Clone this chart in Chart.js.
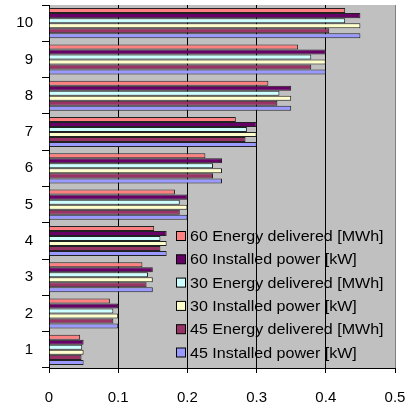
<!DOCTYPE html>
<html>
<head>
<meta charset="utf-8">
<script src="https://cdn.jsdelivr.net/npm/chart.js@4/dist/chart.umd.min.js"></script>
<style>
  body { margin: 0; background: #fff; }
  #grafico { display: block; }
</style>
</head>
<body>
<canvas id="grafico" width="407" height="406"></canvas>
<script>
const categorias = ['1', '2', '3', '4', '5', '6', '7', '8', '9', '10']
const etiquetas = [
    '60 Energy delivered [MWh]',
    '60 Installed power [kW]',
    '30 Energy delivered [MWh]',
    '30 Installed power [kW]',
    '45 Energy delivered [MWh]',
    '45 Installed power [kW]'
]
const energia60 = [0.045, 0.088, 0.135, 0.152, 0.182, 0.226, 0.27, 0.317, 0.36, 0.428]
const potencia60 = [0.05, 0.1, 0.15, 0.17, 0.2, 0.25, 0.3, 0.35, 0.4, 0.45]
const energia30 = [0.048, 0.093, 0.143, 0.161, 0.189, 0.237, 0.286, 0.333, 0.379, 0.428]
const potencia30 = [0.05, 0.1, 0.15, 0.17, 0.2, 0.25, 0.3, 0.35, 0.4, 0.45]
const energia45 = [0.047, 0.093, 0.141, 0.161, 0.189, 0.237, 0.284, 0.33, 0.379, 0.405]
const potencia45 = [0.05, 0.1, 0.15, 0.17, 0.2, 0.25, 0.3, 0.35, 0.4, 0.45]
const ticksX = [0, 0.1, 0.2, 0.3, 0.4, 0.5]

const colores = ['#ff8080', '#660066', '#ccffff', '#ffffcc', '#993366', '#9999ff']
const series = [energia60, potencia60, energia30, potencia30, energia45, potencia45]

const fuente = { family: 'Liberation Sans, Arial, sans-serif', size: 15 }

const fondoGris = {
    id: 'fondoGris',
    beforeDraw(chart) {
        const { ctx, chartArea } = chart
        ctx.save()
        ctx.fillStyle = '#c0c0c0'
        ctx.fillRect(chartArea.left, chartArea.top, chartArea.right - chartArea.left, chartArea.bottom - chartArea.top)
        ctx.restore()
    }
}

const leyenda = {
    id: 'leyenda',
    afterDraw(chart) {
        const { ctx } = chart
        ctx.save()
        ctx.font = '15px "Liberation Sans", Arial, sans-serif'
        ctx.textBaseline = 'middle'
        chart.data.datasets.forEach((ds, i) => {
            const y = 236 + i * 23.3
            ctx.fillStyle = ds.backgroundColor
            ctx.fillRect(176.5, y - 4.5, 9, 9)
            ctx.strokeStyle = '#000'
            ctx.lineWidth = 1
            ctx.strokeRect(176.5, y - 4.5, 9, 9)
            ctx.fillStyle = '#000'
            ctx.save()
            ctx.translate(190, y + 1)
            ctx.scale(1.07, 1)
            ctx.fillText(ds.label, 0, 0)
            ctx.restore()
        })
        ctx.restore()
    }
}

const config = {
    type: 'bar',
    data: {
        labels: categorias,
        datasets: series.map((valores, i) => ({
            label: etiquetas[i],
            data: valores,
            backgroundColor: colores[i],
            borderColor: '#222',
            borderWidth: 1,
            borderSkipped: 'start',
            barPercentage: 1,
            categoryPercentage: 0.83
        }))
    },
    options: {
        indexAxis: 'y',
        responsive: false,
        animation: false,
        devicePixelRatio: 1,
        layout: { padding: { top: 5, right: 12, left: 0, bottom: 0 } },
        plugins: {
            legend: { display: false },
            tooltip: { enabled: false }
        },
        scales: {
            x: {
                min: 0,
                max: 0.5,
                afterBuildTicks: (scale) => { scale.ticks = ticksX.map(v => ({ value: v })) },
                afterFit: (scale) => {
                    scale.height = 38
                    scale.paddingLeft = 0
                    scale.paddingRight = 0
                },
                ticks: { color: '#000', font: fuente, padding: 16, maxRotation: 0 },
                grid: {
                    color: (c) => c.tick && c.tick.value === 0.5 ? '#808080' : '#000',
                    tickColor: '#000',
                    tickLength: 5
                },
                border: { color: '#000', width: 1 }
            },
            y: {
                reverse: true,
                afterFit: (scale) => {
                    scale.width = 49
                    scale.paddingTop = 0
                    scale.paddingBottom = 0
                },
                ticks: { color: '#000', font: fuente, padding: 9 },
                grid: {
                    drawOnChartArea: false,
                    offset: true,
                    tickColor: '#000',
                    tickLength: 7
                },
                border: { color: '#000', width: 1 }
            }
        }
    },
    plugins: [fondoGris, leyenda]
}

new Chart(document.querySelector('#grafico'), config)
</script>
</body>
</html>
